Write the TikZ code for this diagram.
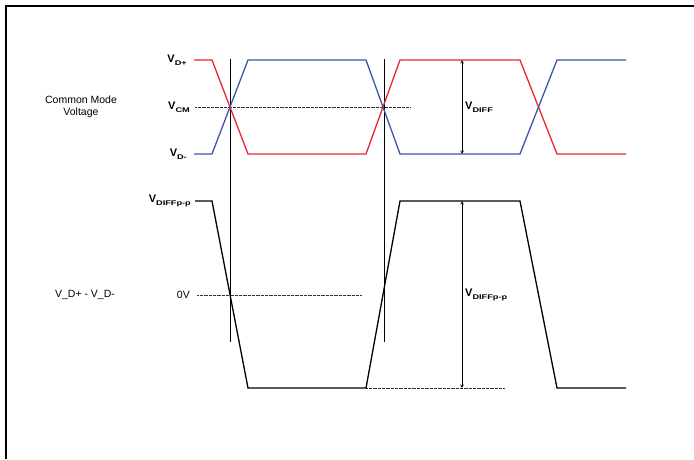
\documentclass[tikz,border=0pt]{standalone}
\usepackage{fontspec}
\usepackage{graphicx}
\setmainfont{Liberation Sans}
\usetikzlibrary{positioning}
\definecolor{dplus}{RGB}{236,36,44}
\definecolor{dminus}{RGB}{62,84,168}
\newcommand\vlab[1]{V\raisebox{-0.45ex}{\scalebox{1.35}[1]{\fontsize{6.8}{7}\selectfont #1}}}
\tikzset{
  wave/.style={line width=1.3pt},
  marker/.style={line width=0.6pt},
  level/.style={gray!40!black, line width=0.8pt, dash pattern=on 0.8pt off 0.5pt},
  vname/.style={font=\bfseries\fontsize{11}{12}\selectfont, inner sep=1pt},
  plain/.style={font=\fontsize{10.5}{11.5}\selectfont, align=center, inner sep=0pt},
}
\begin{document}
\begin{tikzpicture}[x=1pt,y=-1pt]
  \useasboundingbox (0,0) rectangle (694,459);
  \draw[line width=1.2pt] (694,6) -- (6,6) -- (6,459);

  % levels
  \coordinate (cmL) at (195,107);
  \coordinate (cmR) at (410,107);
  \coordinate (zL) at (197,295);
  \coordinate (zR) at (362,295);
  \coordinate (lowL) at (366,388);
  \coordinate (lowR) at (505,388);
  \draw[level] (cmL) -- (cmR);
  \draw[level] (zL) -- (zR);
  \draw[level] (lowL) -- (lowR);

  % crossing markers
  \coordinate (m1t) at (230,59);
  \coordinate (m1b) at (230,342);
  \coordinate (m2t) at (384,59);
  \coordinate (m2b) at (384,342);
  \draw[marker] (m1t) -- (m1b);
  \draw[marker] (m2t) -- (m2b);

  % single ended
  \draw[wave, dplus] (194,60) -- (212,60) -- (248,154) -- (366,154) -- (400,60)
    -- (520,60) -- (557,154) -- (626,154);
  \draw[wave, dminus] (194,154) -- (212,154) -- (248,60) -- (366,60) -- (400,154)
    -- (520,154) -- (557,60) -- (626,60);

  % differential
  \draw[wave] (195,201) -- (212,201) -- (248,388) -- (366,388) -- (400,201)
    -- (520,201) -- (557,388) -- (626,388);

  % amplitudes
  \coordinate (dtop) at (462,60);
  \coordinate (dbot) at (462,154);
  \coordinate (ptop) at (462,201);
  \coordinate (pbot) at (462,388);
  \draw[marker, stealth-stealth] (dtop) -- (dbot);
  \draw[marker, stealth-stealth] (ptop) -- (pbot);

  % labels
  \node[vname, anchor=east] (vdp) at (188,60) {\vlab{D+}};
  \node[vname, anchor=east] (vcm) at (191,107) {\vlab{CM}};
  \node[vname, anchor=east] (vdm) at (188,154) {\vlab{D-}};
  \node[vname, anchor=east] (vpp) at (192,201) {\vlab{DIFFp-p}};
  \node[plain, anchor=east] (zero) at (190,295) {0V};
  \node[vname, anchor=west] (vdiff) at (464,107) {\vlab{DIFF}};
  \node[vname, anchor=west] (vdiffpp) at (464,295) {\vlab{DIFFp-p}};
  \node[plain] (cm) at (81,107) {Common Mode\\Voltage};
  \node[plain] (dd) at (85,295) {V\_D+ - V\_D-};
\end{tikzpicture}
\end{document}
